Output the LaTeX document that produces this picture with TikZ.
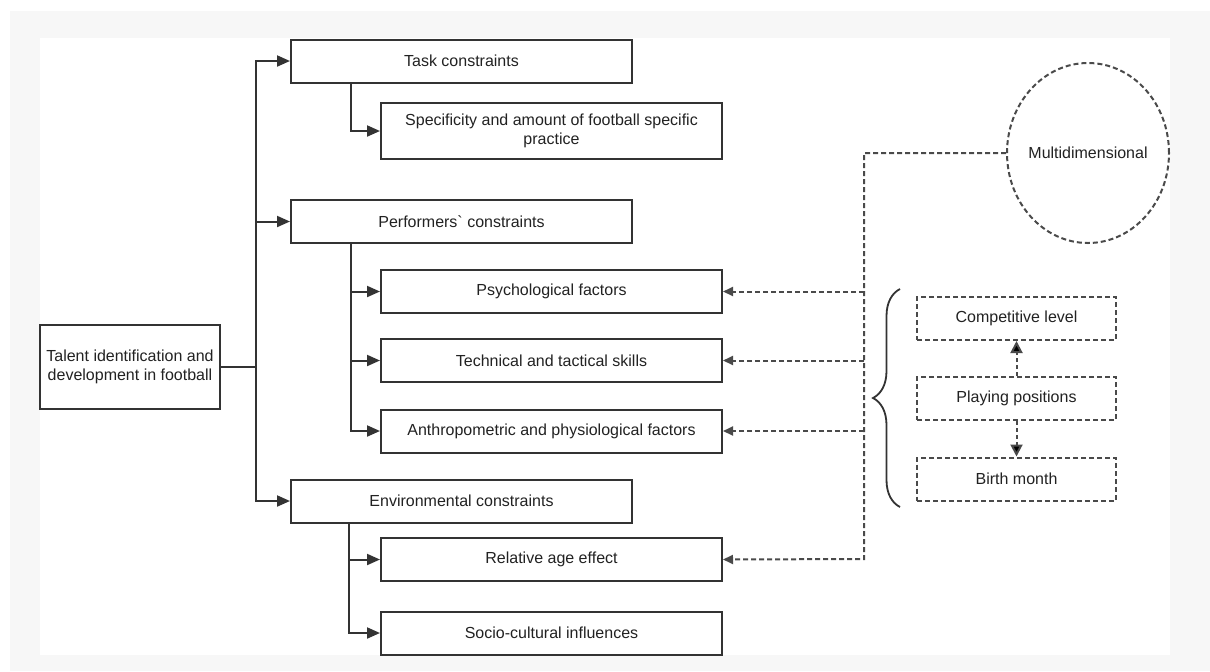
\documentclass[tikz,border=0pt]{standalone}
\usepackage{fontspec}
\setmainfont{Liberation Sans}
\usetikzlibrary{arrows.meta,shapes.geometric,decorations.pathreplacing}
\definecolor{linegray}{HTML}{333333}
\definecolor{dashgray}{HTML}{4A4A4A}
\definecolor{textgray}{HTML}{222222}
\definecolor{framegray}{HTML}{F7F7F7}
\begin{document}
\begin{tikzpicture}[x=0.5pt,y=-0.5pt,
		font=\fontsize{8}{9.5}\selectfont,
		box/.style={draw=linegray,line width=1pt,text=textgray,align=center,inner sep=2pt,minimum height=21.5pt},
		mainbox/.style={box,minimum width=170.5pt},
		subbox/.style={box,minimum width=170.5pt},
		dbox/.style={draw=dashgray,line width=1pt,dash pattern=on 2.5pt off 1.5pt,text=textgray,minimum width=99.5pt,minimum height=21.5pt},
		arr/.style={draw=linegray,line width=1pt,-{Triangle[length=6.5pt,width=5.5pt]}},
		darr/.style={draw=dashgray,line width=1pt,dash pattern=on 2.5pt off 1.5pt,-{Triangle[length=5pt,width=4.5pt]}},
		parr/.style={draw=dashgray,line width=1pt,dash pattern=on 2pt off 1.5pt,-{Triangle[length=6pt,width=6pt,fill=black]}}
	]
	\useasboundingbox (0,0) rectangle (1210,671);
	\fill[framegray] (10,11) rectangle (1210,671);
	\fill[white] (40,38) rectangle (1170,655);

	\node[box,minimum width=90pt,minimum height=42pt] (talent) at (130,367) {Talent identification and\\development in football};

	\node[mainbox] (task) at (461.5,61) {Task constraints};
	\node[subbox,minimum height=28pt] (spec) at (551.5,131) {Specificity and amount of football specific\\practice};

	\node[mainbox] (perf) at (461.5,221.5) {Performers\textasciigrave\ constraints};
	\node[subbox] (psych) at (551.5,291.5) {Psychological factors};
	\node[subbox] (tech) at (551.5,360.5) {Technical and tactical skills};
	\node[subbox] (anthro) at (551.5,431) {Anthropometric and physiological factors};

	\node[mainbox] (env) at (461.5,501) {Environmental constraints};
	\node[subbox] (rae) at (551.5,559.5) {Relative age effect};
	\node[subbox] (socio) at (551.5,633) {Socio-cultural influences};

	\node[ellipse,draw=dashgray,line width=1pt,dash pattern=on 2.5pt off 1.5pt,text=textgray,inner sep=0pt,minimum width=81pt,minimum height=90pt] (multi) at (1088,153) {\makebox[40pt]{Multidimensional}};

	\node[dbox] (comp) at (1016.5,318.5) {Competitive level};
	\node[dbox] (play) at (1016.5,398.5) {Playing positions};
	\node[dbox] (birth) at (1016.5,479) {Birth month};

	\draw[arr] (talent.east) -- ++(35,0) |- (task);
	\draw[arr] (talent.east) -- ++(35,0) |- (perf);
	\draw[arr] (talent.east) -- ++(35,0) |- (env);

	\draw[arr] ([xshift=30.5pt]task.south west) |- (spec);
	\draw[arr] ([xshift=30.5pt]perf.south west) |- (psych);
	\draw[arr] ([xshift=30.5pt]perf.south west) |- (tech);
	\draw[arr] ([xshift=30.5pt]perf.south west) |- (anthro);
	\draw[arr] ([xshift=29.5pt]env.south west) |- (rae);
	\draw[arr] ([xshift=29.5pt]env.south west) |- (socio);

	\coordinate (hub) at (864,559);
	\draw[darr] (multi.west) -| (hub) -- (rae.east);
	\draw[darr] (hub |- psych.east) -- (psych.east);
	\draw[darr] (hub |- tech.east) -- (tech.east);
	\draw[darr] (hub |- anthro.east) -- (anthro.east);

	\draw[parr] (play.north) -- (comp.south);
	\draw[parr] (play.south) -- (birth.north);

	\draw[linegray,line width=0.9pt,decorate,decoration={brace,amplitude=13.5pt}] (900,507) -- (900,289);
\end{tikzpicture}
\end{document}
